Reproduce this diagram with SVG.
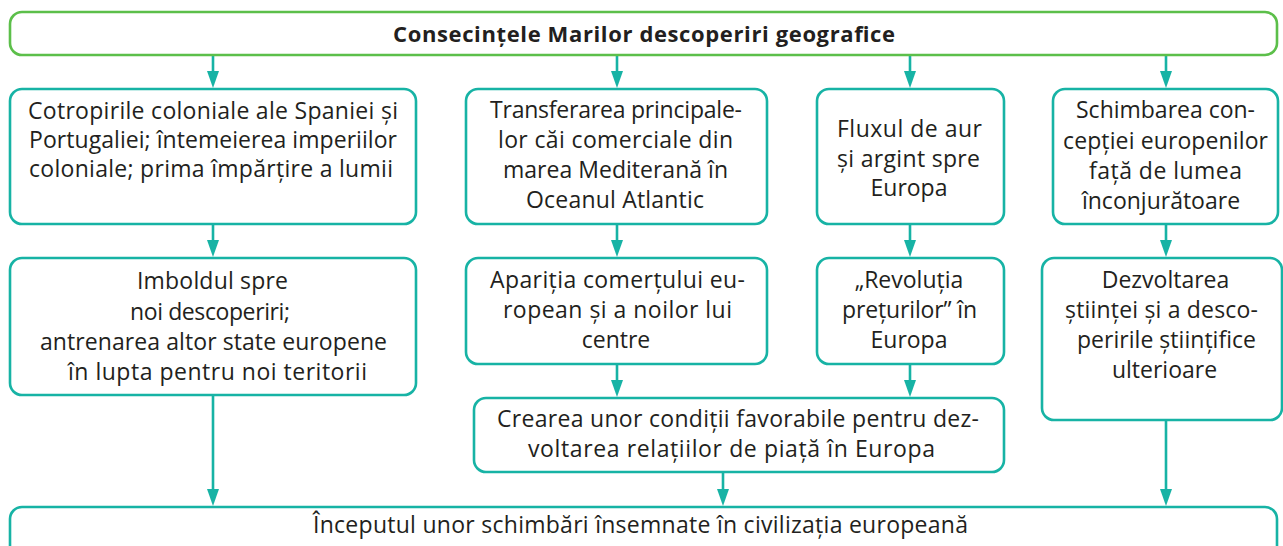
<svg xmlns="http://www.w3.org/2000/svg" width="1283" height="546" viewBox="0 0 1283 546">
<style>
.box{fill:#fff;stroke:#17b3a5;stroke-width:2.6}
.top{fill:#fff;stroke:#5cbf4a;stroke-width:2.6}
.t{font-family:"Open Sans","Noto Sans",sans-serif;font-size:23px;fill:#231f20;text-anchor:middle}
.title{font-family:"Open Sans","Noto Sans",sans-serif;font-size:22px;font-weight:bold;fill:#231f20;text-anchor:middle}
.c{stroke:#17b3a5;stroke-width:2.6;fill:none;marker-end:url(#ah)}
</style>
<defs>
<marker id="ah" markerUnits="userSpaceOnUse" markerWidth="17" markerHeight="12" refX="9" refY="6" orient="auto" viewBox="0 0 17 12">
<path d="M0,0 L17,6 L0,12 Z" fill="#17b3a5"/>
</marker>
</defs>
<rect width="1283" height="546" fill="#fff"/>
<g id="connectors">
<line class="c" x1="213" y1="55" x2="213" y2="80"/>
<line class="c" x1="617" y1="55" x2="617" y2="80"/>
<line class="c" x1="910" y1="55" x2="910" y2="80"/>
<line class="c" x1="1166" y1="55" x2="1166" y2="80"/>
<line class="c" x1="213" y1="224" x2="213" y2="249"/>
<line class="c" x1="617" y1="224" x2="617" y2="249"/>
<line class="c" x1="910" y1="224" x2="910" y2="249"/>
<line class="c" x1="1166" y1="224" x2="1166" y2="249"/>
<line class="c" x1="617" y1="364" x2="617" y2="389"/>
<line class="c" x1="910" y1="364" x2="910" y2="389"/>
<line class="c" x1="213" y1="395" x2="213" y2="498"/>
<line class="c" x1="1166" y1="420" x2="1166" y2="498"/>
<line class="c" x1="723" y1="472" x2="723" y2="498"/>
</g>
<g id="title">
<rect class="top" x="10" y="12" width="1267" height="43" rx="12"/>
<text class="title" x="644" y="42" textLength="502" lengthAdjust="spacing">Consecințele Marilor descoperiri geografice</text>
</g>
<g id="n1">
<rect class="box" x="10" y="89" width="406" height="135" rx="12"/>
<text class="t" x="213" y="119" textLength="370" lengthAdjust="spacing">Cotropirile coloniale ale Spaniei și</text>
<text class="t" x="213" y="148" textLength="368" lengthAdjust="spacing">Portugaliei; întemeierea imperiilor</text>
<text class="t" x="211" y="177" textLength="364" lengthAdjust="spacing">coloniale; prima împărțire a lumii</text>
</g>
<g id="n2">
<rect class="box" x="466" y="89" width="301" height="135" rx="12"/>
<text class="t" x="616" y="118" textLength="252" lengthAdjust="spacing">Transferarea principale-</text>
<text class="t" x="615.5" y="148" textLength="235" lengthAdjust="spacing">lor căi comerciale din</text>
<text class="t" x="615.5" y="178" textLength="225" lengthAdjust="spacing">marea Mediterană în</text>
<text class="t" x="615" y="208" textLength="178" lengthAdjust="spacing">Oceanul Atlantic</text>
</g>
<g id="n3">
<rect class="box" x="817" y="89" width="187" height="135" rx="12"/>
<text class="t" x="909.5" y="137" textLength="145" lengthAdjust="spacing">Fluxul de aur</text>
<text class="t" x="908.5" y="167" textLength="143" lengthAdjust="spacing">și argint spre</text>
<text class="t" x="909" y="196">Europa</text>
</g>
<g id="n4">
<rect class="box" x="1053" y="89" width="225" height="135" rx="12"/>
<text class="t" x="1165.5" y="118" textLength="179" lengthAdjust="spacing">Schimbarea con-</text>
<text class="t" x="1165.5" y="149" textLength="205" lengthAdjust="spacing">cepției europenilor</text>
<text class="t" x="1165.5" y="179" textLength="153" lengthAdjust="spacing">față de lumea</text>
<text class="t" x="1161" y="209">înconjurătoare</text>
</g>
<g id="n5">
<rect class="box" x="10" y="258" width="406" height="137" rx="12"/>
<text class="t" x="212.5" y="289" textLength="151" lengthAdjust="spacing">Imboldul spre</text>
<text class="t" x="210" y="320" textLength="160" lengthAdjust="spacing">noi descoperiri;</text>
<text class="t" x="213.5" y="350" textLength="347" lengthAdjust="spacing">antrenarea altor state europene</text>
<text class="t" x="217.5" y="380" textLength="299" lengthAdjust="spacing">în lupta pentru noi teritorii</text>
</g>
<g id="n6">
<rect class="box" x="466" y="258" width="301" height="106" rx="12"/>
<text class="t" x="617.5" y="288" textLength="255" lengthAdjust="spacing">Apariția comerțului eu-</text>
<text class="t" x="617.5" y="318" textLength="229" lengthAdjust="spacing">ropean și a noilor lui</text>
<text class="t" x="616" y="348">centre</text>
</g>
<g id="n7">
<rect class="box" x="817" y="258" width="187" height="106" rx="12"/>
<text class="t" x="909" y="288">„Revoluția</text>
<text class="t" x="909.5" y="318" textLength="135" lengthAdjust="spacing">prețurilor” în</text>
<text class="t" x="909" y="348">Europa</text>
</g>
<g id="n8">
<rect class="box" x="1042" y="258" width="240" height="162" rx="12"/>
<text class="t" x="1165.5" y="288">Dezvoltarea</text>
<text class="t" x="1161.5" y="318" textLength="193" lengthAdjust="spacing">științei și a desco-</text>
<text class="t" x="1166.5" y="348" textLength="179" lengthAdjust="spacing">peririle științifice</text>
<text class="t" x="1164.5" y="378">ulterioare</text>
</g>
<g id="n9">
<rect class="box" x="474" y="398" width="530" height="74" rx="12"/>
<text class="t" x="738" y="427" textLength="482" lengthAdjust="spacing">Crearea unor condiții favorabile pentru dez-</text>
<text class="t" x="731.5" y="457" textLength="407" lengthAdjust="spacing">voltarea relațiilor de piață în Europa</text>
</g>
<g id="n10">
<rect class="box" x="10" y="507" width="1267" height="60" rx="12"/>
<text class="t" x="640.5" y="533" textLength="655" lengthAdjust="spacing">Începutul unor schimbări însemnate în civilizația europeană</text>
</g>
</svg>
